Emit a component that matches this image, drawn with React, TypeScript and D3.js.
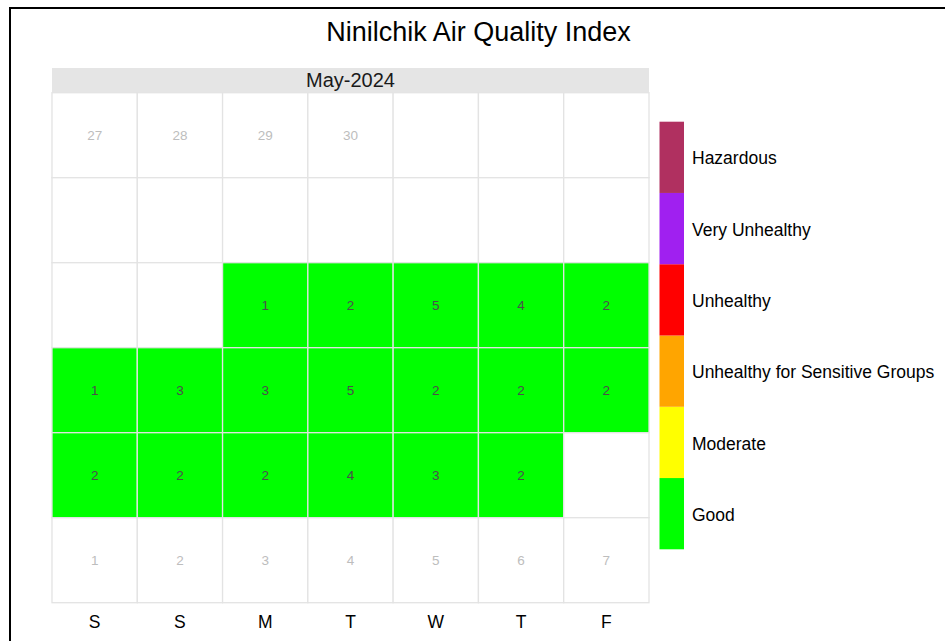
import React from "react";
import * as d3 from "d3";

const title = "Ninilchik Air Quality Index";
const monthLabel = "May-2024";
const weekdayLabels = ["S", "S", "M", "T", "W", "T", "F"];
const gridStart = "2024-04-27";
const monthIndex = 4; // May
const aqiDates = [
  "2024-05-13", "2024-05-14", "2024-05-15", "2024-05-16", "2024-05-17",
  "2024-05-18", "2024-05-19", "2024-05-20", "2024-05-21", "2024-05-22", "2024-05-23", "2024-05-24",
  "2024-05-25", "2024-05-26", "2024-05-27", "2024-05-28", "2024-05-29", "2024-05-30",
];
const aqiValues = [1, 2, 5, 4, 2, 1, 3, 3, 5, 2, 2, 2, 2, 2, 2, 4, 3, 2];
const categories = ["Good", "Moderate", "Unhealthy for Sensitive Groups", "Unhealthy", "Very Unhealthy", "Hazardous"];
const categoryColors = ["#00FF00", "#FFFF00", "#FFA500", "#FF0000", "#A020F0", "#B03060"];
const categoryBreaks = [50, 100, 150, 200, 300];

export default function App() {
  const W = 945, H = 641;
  const px0 = 52, px1 = 649, py0 = 92.7, py1 = 602.7;
  const x = d3.scaleBand<number>().domain(d3.range(7)).range([px0, px1]);
  const y = d3.scaleBand<number>().domain(d3.range(6)).range([py0, py1]);
  const catScale = d3.scaleThreshold<number, string>().domain(categoryBreaks).range(categoryColors);
  const parse = d3.timeParse("%Y-%m-%d");
  const start = parse(gridStart)!;
  const valueMap = new Map<string, number>();
  aqiDates.forEach((d, i) => valueMap.set(d, aqiValues[i]));
  const fmt = d3.timeFormat("%Y-%m-%d");
  const cells = d3.range(42).map((i) => {
    const date = d3.timeDay.offset(start, i);
    const key = fmt(date);
    return { i, date, col: i % 7, row: Math.floor(i / 7), inMonth: date.getMonth() === monthIndex, value: valueMap.get(key) };
  });

  const legX = 659.5, legW = 24.5, legTop = 121.7, legBot = 549.3;
  const ly = d3.scaleBand<number>().domain(d3.range(categories.length)).range([legBot, legTop]);

  const font = "Liberation Sans, Arial, sans-serif";
  return (
    <svg width={W} height={H} style={{ position: "absolute", left: 0, top: 0 }} fontFamily={font}>
      <rect x={0} y={0} width={W} height={H} fill="white" />
      <rect x={10} y={8} width={W + 20} height={H + 20} fill="none" stroke="black" strokeWidth={2} />
      <text x={478.5} y={41} textAnchor="middle" fontSize={27} fill="black">{title}</text>
      <rect x={px0} y={68} width={px1 - px0} height={py0 - 68} fill="#E5E5E5" />
      <text x={(px0 + px1) / 2} y={86.5} textAnchor="middle" fontSize={20} fill="#1a1a1a">{monthLabel}</text>
      {cells.map((c) => (
        <rect key={"c" + c.i} x={x(c.col)} y={y(c.row)} width={x.bandwidth()} height={y.bandwidth()}
          fill={c.value !== undefined ? catScale(c.value) : "white"} stroke="#E3E3E3" strokeWidth={1.3} />
      ))}
      {cells.map((c) => {
        const cx = x(c.col)! + x.bandwidth() / 2;
        const cy = y(c.row)! + y.bandwidth() / 2;
        if (!c.inMonth) {
          return <text key={"t" + c.i} x={cx} y={cy} dy="0.35em" textAnchor="middle" fontSize={13.5} fill="#BDBDBD">{c.date.getDate()}</text>;
        }
        if (c.value !== undefined) {
          return <text key={"t" + c.i} x={cx} y={cy} dy="0.35em" textAnchor="middle" fontSize={13.5} fill="#4D4D4D">{c.value}</text>;
        }
        return null;
      })}
      {weekdayLabels.map((d, i) => (
        <text key={"w" + i} x={x(i)! + x.bandwidth() / 2} y={622} dy="0.35em" textAnchor="middle" fontSize={17.5} fill="black">{d}</text>
      ))}
      {categories.map((c, i) => (
        <g key={"l" + i}>
          <rect x={legX} y={ly(i)} width={legW} height={ly.bandwidth()} fill={categoryColors[i]} />
          <text x={692} y={ly(i)! + ly.bandwidth() / 2 + 1} dy="0.35em" fontSize={17.5} fill="black">{c}</text>
        </g>
      ))}
    </svg>
  );
}
